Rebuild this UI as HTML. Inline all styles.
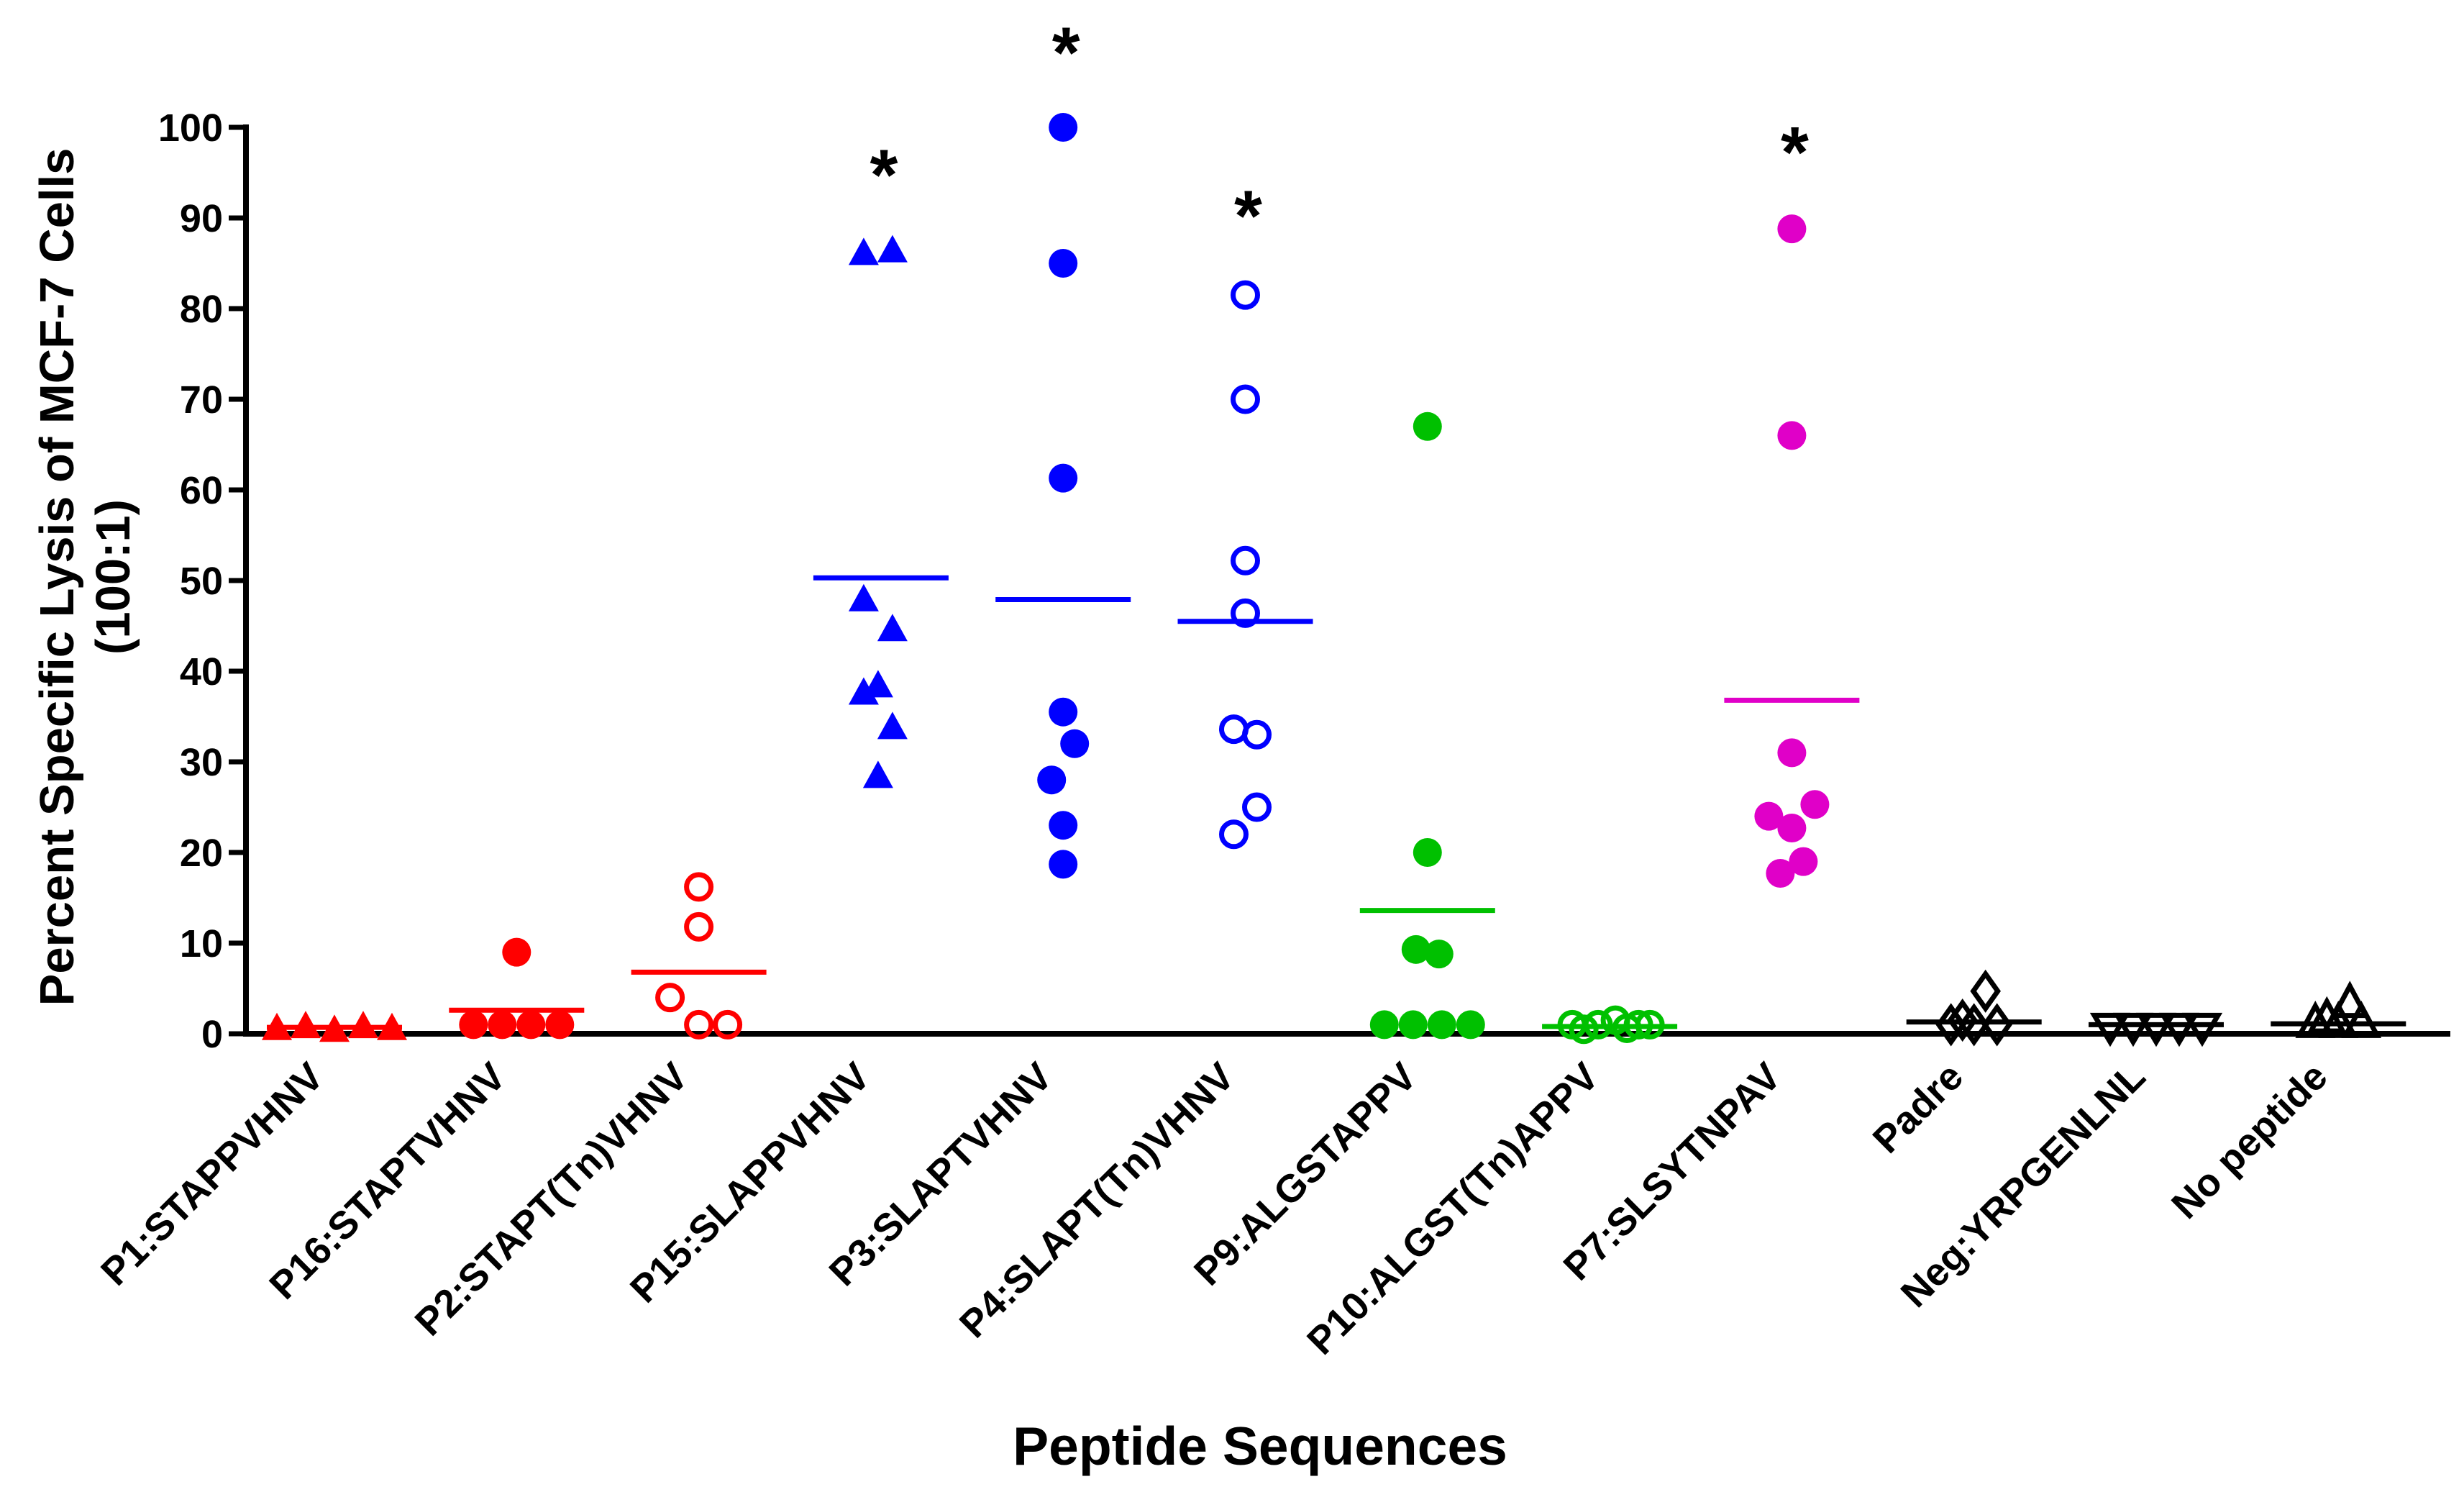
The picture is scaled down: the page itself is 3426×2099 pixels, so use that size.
<!DOCTYPE html>
<html><head><meta charset="utf-8"><style>
html,body{margin:0;padding:0;background:#fff;}
svg{display:block;font-family:"Liberation Sans",Arial,sans-serif;}
</style></head><body>
<svg id="chart" width="3426" height="2099" viewBox="0 0 3426 2099" xmlns="http://www.w3.org/2000/svg">
<g id="axes"></g>
<g id="marks"></g>
<text transform="translate(102,802) rotate(-90)" text-anchor="middle" font-size="67" font-weight="bold">Percent Specific Lysis of MCF-7 Cells</text>
<text transform="translate(180,802) rotate(-90)" text-anchor="middle" font-size="67" font-weight="bold">(100:1)</text>
<text x="1752" y="2036" text-anchor="middle" font-size="75" font-weight="bold">Peptide Sequences</text>
</svg>
<script>
const categories = ["P1:STAPPVHNV","P16:STAPTVHNV","P2:STAPT(Tn)VHNV","P15:SLAPPVHNV","P3:SLAPTVHNV","P4:SLAPT(Tn)VHNV","P9:ALGSTAPPV","P10:ALGST(Tn)APPV","P7:SLSYTNPAV","Padre","Neg:YRPGENLNL","No peptide"];
const colors = ["#ff0000","#ff0000","#ff0000","#0000ff","#0000ff","#0000ff","#00c000","#00c000","#e000c8","#000","#000","#000"];
const markers = ["tri","dot","ring","tri","dot","ring","dot","ring","dot","diamond","tridown","triopen"];
const values = [
 [0.5,0.7,0.3,0.7,0.5],
 [1,1,1,1,9],
 [16.2,11.8,4,1,1],
 [86,86.3,47.8,44.5,38.3,37.5,33.7,28.3],
 [100,85,61.3,35.5,32,28,23,18.7],
 [81.5,70,52.2,46.4,33.6,33,25,22],
 [67,20,9.3,8.8,1,1,1,1],
 [1,0.5,1,1.5,0.6,1,1],
 [88.8,66,31,25.3,24,22.7,19,17.7],
 [4.7,1.5,1,1,1],
 [1,1,1,1,1],
 [3.2,1.5,1,1,1]
];
const jitter = [
 [-2,-1,0,1,2],[-1.5,-0.5,0.5,1.5,0],[0,0,-1,0,1],
 [-0.6,0.4,-0.6,0.4,-0.1,-0.6,0.4,-0.1],[0,0,0,0,0.4,-0.4,0,0],[0,0,0,0,-0.4,0.4,0.4,-0.4],
 [0,0,-0.4,0.4,-1.5,-0.5,0.5,1.5],[-1.3,-0.9,-0.4,0.2,0.6,1,1.4],[0,0,0,0.8,-0.8,0,0.4,-0.4],
 [0.4,-0.4,-0.8,0,0.8],[-1.6,-0.8,0,0.8,1.6],[0.4,-0.4,-0.8,0,0.8]
];
const means = [0.7,2.6,6.8,50.3,47.9,45.5,13.6,0.8,36.8,1.3,1.0,1.1];
const yTicks = [0,10,20,30,40,50,60,70,80,90,100];
const starGroups = [3,4,5,8];
const starValues = [95.5,109,91,98];

const NS="http://www.w3.org/2000/svg";
const X0=465, DX=253.3, Y0=1437, Y100=177, AXL=342, AXR=3407;
const xs=i=>X0+i*DX;
const ys=v=>Y0-(Y0-Y100)*v/100;
function mk(tag,attrs,parent){const e=document.createElementNS(NS,tag);for(const k in attrs)e.setAttribute(k,attrs[k]);parent.appendChild(e);return e;}
const axes=document.getElementById('axes'), marks=document.getElementById('marks');

let yl=mk('line',{x1:AXL,y1:Y100-4,x2:AXL,y2:Y0+4,stroke:'#000','stroke-width':8},axes);


let xl=mk('line',{x1:AXL-4,y1:Y0,x2:AXR,y2:Y0,stroke:'#000','stroke-width':8},axes);


yTicks.forEach(t=>{
 let tk=mk('line',{x1:AXL-24,y1:ys(t),x2:AXL,y2:ys(t),stroke:'#000','stroke-width':7},axes);
 
 
 let tl=mk('text',{x:AXL-32,y:ys(t)+19,'text-anchor':'end','font-size':54,'font-weight':'bold'},axes);
 tl.textContent=t;
 
 
});
categories.forEach((c,i)=>{
 const cx=xs(i);
 let t=mk('text',{transform:`translate(${cx-12},${1500}) rotate(-45)`,'text-anchor':'end','font-size':54,'font-weight':'bold'},axes);
 t.textContent=c;
 
 
});

const R=20;
values.forEach((arr,i)=>{
 const col=colors[i], m=markers[i];
 const g=mk('g',{},marks);
 
 
 arr.forEach((v,j)=>{
  const x=xs(i)+jitter[i][j]*40, y=ys(v);
  let e;
  if(m==='dot') e=mk('ellipse',{cx:x,cy:y,rx:R,ry:R,fill:col},g);
  else if(m==='ring') e=mk('circle',{cx:x,cy:y,r:R-3,fill:'none',stroke:col,'stroke-width':7},g);
  else if(m==='tri') e=mk('polygon',{points:`${x},${y-23} ${x-21},${y+15} ${x+21},${y+15}`,fill:col},g);
  else if(m==='triopen') e=mk('polygon',{points:`${x},${y-26} ${x-22},${y+15} ${x+22},${y+15}`,fill:'none',stroke:col,'stroke-width':7},g);
  else if(m==='tridown') e=mk('polygon',{points:`${x-22},${y-13} ${x+22},${y-13} ${x},${y+24}`,fill:'none',stroke:col,'stroke-width':7},g);
  else e=mk('polygon',{points:`${x},${y-24} ${x+17},${y} ${x},${y+24} ${x-17},${y}`,fill:'none',stroke:col,'stroke-width':7},g);
  
  
 });
 let ml=mk('line',{x1:xs(i)-94,x2:xs(i)+94,y1:ys(means[i]),y2:ys(means[i]),stroke:col,'stroke-width':7},g);
 
 
});
starGroups.forEach((gi,k)=>{
 let s=mk('text',{x:xs(gi)+4,y:ys(starValues[k])+44,'text-anchor':'middle','font-size':100,'font-weight':'bold'},marks);
 s.textContent='*';
 
 
});
</script>
</body></html>
